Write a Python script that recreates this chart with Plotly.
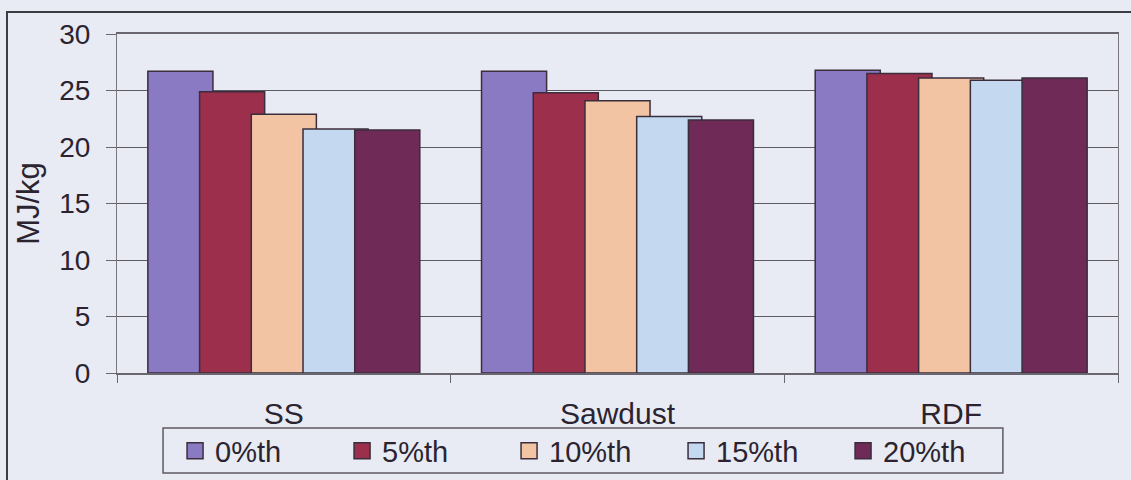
import plotly.graph_objects as go

categories = ["SS", "Sawdust", "RDF"]
series_names = ["0%th", "5%th", "10%th", "15%th", "20%th"]
v0 = [26.7, 26.7, 26.8]
v5 = [24.9, 24.8, 26.5]
v10 = [22.9, 24.1, 26.1]
v15 = [21.6, 22.7, 25.9]
v20 = [21.5, 22.4, 26.1]
series_values = [v0, v5, v10, v15, v20]
colors = ["#8a7ac4", "#9c2f4b", "#f2c4a4", "#c4d8f0", "#6f2a57"]
y_ticks = [0, 5, 10, 15, 20, 25, 30]

FONT = "Arial, Liberation Sans, sans-serif"
TXT = "#2b2430"
BG = "#e8ebf3"
OUT = "#3a2d3c"

bar_w = 0.195
step = 0.155

fig = go.Figure()
n = len(series_names)
for i, (name, vals, col) in enumerate(zip(series_names, series_values, colors)):
    fig.add_trace(go.Bar(
        x=categories, y=vals, name=name,
        width=bar_w, offset=(i - (n - 1) / 2) * step - bar_w / 2,
        marker=dict(color=col, line=dict(color=OUT, width=1.5)),
        showlegend=False, legendgroup=name,
    ))
    fig.add_trace(go.Scatter(
        x=[None], y=[None], mode="markers", name=name, legendgroup=name,
        marker=dict(symbol="square", size=16, color=col, line=dict(color=OUT, width=1.5)),
        showlegend=True,
    ))

fig.update_layout(
    width=1131, height=480,
    margin=dict(l=117, r=13, t=34, b=107, autoexpand=False),
    paper_bgcolor=BG, plot_bgcolor=BG,
    barmode="overlay",
    font=dict(family=FONT, color=TXT, size=26),
    legend=dict(
        orientation="h", x=0.058, xanchor="left", y=-0.23, yanchor="middle",
        bgcolor="rgba(0,0,0,0)", borderwidth=0,
        font=dict(family=FONT, size=29, color=TXT),
        entrywidth=122, entrywidthmode="pixels",
    ),
    xaxis=dict(
        type="category", range=[-0.5, 2.5],
        showline=True, linecolor="#6a6670", linewidth=1.5, mirror=True,
        ticks="outside", tickson="boundaries", ticklen=8, tickcolor="#6a6670",
        showgrid=False, ticklabelstandoff=13,
        tickfont=dict(family=FONT, size=30, color=TXT),
    ),
    yaxis=dict(
        range=[0, 30], tickvals=y_ticks,
        showline=True, linecolor="#7a7680", linewidth=1, mirror=True,
        ticks="outside", ticklen=10, tickcolor="#6a6670",
        showgrid=True, gridcolor="#5e5a64", gridwidth=1,
        zeroline=False, ticklabelstandoff=10,
        tickfont=dict(family=FONT, size=28, color=TXT),
        title=dict(text="MJ/kg", standoff=10, font=dict(family=FONT, size=31, color=TXT)),
    ),
    shapes=[
        dict(type="rect", xref="paper", yref="paper",
             x0=-0.1099, x1=1.03, y0=-0.36, y1=1.0649,
             line=dict(color="#3c3c44", width=2), fillcolor="rgba(0,0,0,0)", layer="below"),
        dict(type="rect", xref="paper", yref="paper",
             x0=0.046, x1=0.885, y0=-0.295, y1=-0.162,
             line=dict(color="#5e5a64", width=1.5), fillcolor="rgba(0,0,0,0)"),
    ],
)

fig.write_html(
    "out.html",
    config={"displayModeBar": False},
    post_script="document.body.style.margin='0';document.body.style.overflow='hidden';",
)
